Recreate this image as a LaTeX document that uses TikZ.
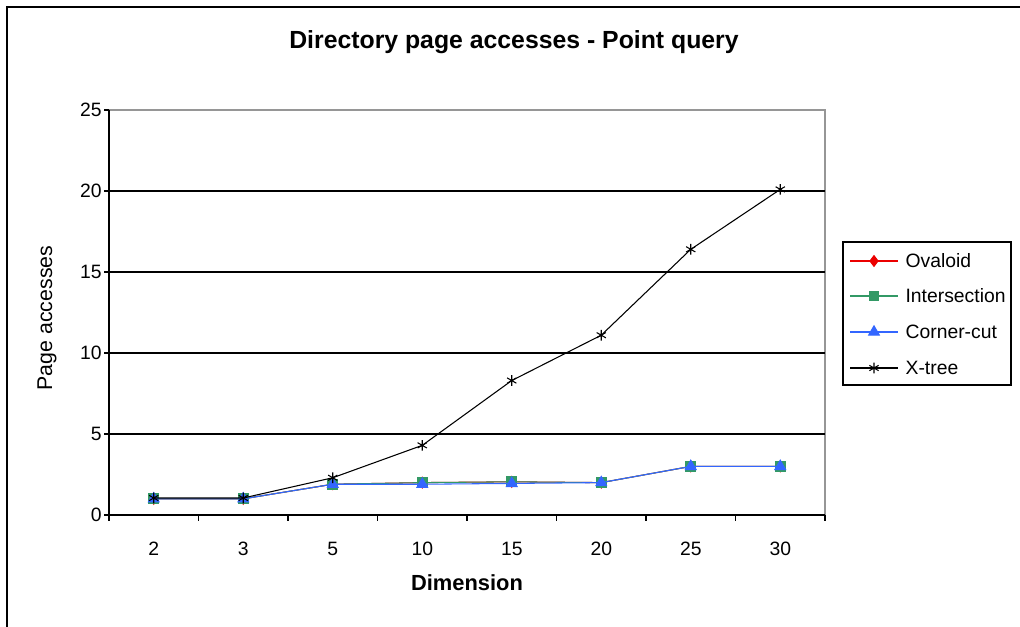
\documentclass[tikz,border=0pt]{standalone}
\usepackage{fontspec}
\setmainfont{Liberation Sans}
\usetikzlibrary{plotmarks}

\definecolor{ovalred}{RGB}{235,0,0}
\definecolor{intgreen}{RGB}{51,153,102}
\definecolor{cornblue}{RGB}{51,102,255}
\definecolor{frame gray}{RGB}{150,150,150}

\tikzset{
  ovaloid/.style={ovalred, line width=.8pt, mark=diamond*, mark size=4pt, mark options={fill=ovalred}},
  intersection/.style={intgreen, line width=.8pt, mark=square*, mark size=3.6pt, mark options={fill=intgreen}},
  cornercut/.style={cornblue, line width=.8pt, mark=triangle*, mark size=4.6pt, mark options={fill=cornblue}},
  xtree/.style={black, line width=.8pt, mark=asterisk, mark size=4pt},
  gridline/.style={line width=1.1pt},
  ticklabel/.style={font=\fontsize{14.5}{16}\selectfont, inner sep=1pt},
  legendtext/.style={font=\fontsize{14.5}{16}\selectfont, anchor=west, inner sep=1pt},
}

\begin{document}
\begin{tikzpicture}[x=.75pt, y=-.75pt]
\useasboundingbox (0,0) rectangle (1020,626);
\clip (0,0) rectangle (1020,626);
\draw[line width=1.3pt] (7,7) rectangle (1040,650);

\node (title) at (514,42) {\bfseries\fontsize{18.6}{20}\selectfont Directory page accesses - Point query};

% plot area in data units
\begin{scope}[shift={(109,515)}, x=67.125pt, y=12.15pt]
  \draw[frame gray, line width=1.1pt] (0,25) -- (8,25) -- (8,0);
  \foreach \v in {5,10,15,20}
    \draw[gridline] (0,\v) -- (8,\v);
  \foreach \v in {0,5,...,25}
    \draw[gridline] (0,\v) -- ++(-4pt,0) node[ticklabel, left] (yl\v) {\v};
  \draw[gridline] (0,25) -- (0,0) -- (8,0);
  \foreach \i in {0,...,8}
    \draw[gridline] (\i,0) -- ++(0,-4.5pt);
  \foreach \lab [count=\i] in {2,3,5,10,15,20,25,30}
    \node[ticklabel, anchor=north] (xl\i) at ([yshift=-19pt]\i-.5,0) {\lab};

  \draw[ovaloid] plot coordinates {(.5,1) (1.5,1) (2.5,1.9) (3.5,2) (4.5,2.05) (5.5,2) (6.5,3) (7.5,3)};
  \draw[intersection] plot coordinates {(.5,1) (1.5,1) (2.5,1.9) (3.5,2) (4.5,2.05) (5.5,2) (6.5,3) (7.5,3)};
  \draw[cornercut] plot coordinates {(.5,1) (1.5,1) (2.5,1.9) (3.5,1.9) (4.5,1.95) (5.5,2) (6.5,3) (7.5,3)};
  \draw[xtree] plot coordinates {(.5,1.05) (1.5,1.05) (2.5,2.3) (3.5,4.3) (4.5,8.3) (5.5,11.1) (6.5,16.4) (7.5,20.1)};

  \node[font=\bfseries\fontsize{16.4}{18}\selectfont] (xtitle) at ([yshift=-51pt]4,0) {Dimension};
\end{scope}

\node[rotate=90, font=\fontsize{16}{18}\selectfont] (ytitle) at (47,318) {Page accesses};

% legend
\draw[line width=1.1pt] (843,242) rectangle (1011,385);
\foreach \s/\name/\yy in {ovaloid/Ovaloid/261, intersection/Intersection/296, cornercut/Corner-cut/332, xtree/X-tree/368}{
  \draw[\s] (850,\yy) -- (898,\yy);
  \path[\s] plot coordinates {(874,\yy)};
  \node[legendtext] (lg\name) at (904,\yy) {\name};
}
\end{tikzpicture}
\end{document}
